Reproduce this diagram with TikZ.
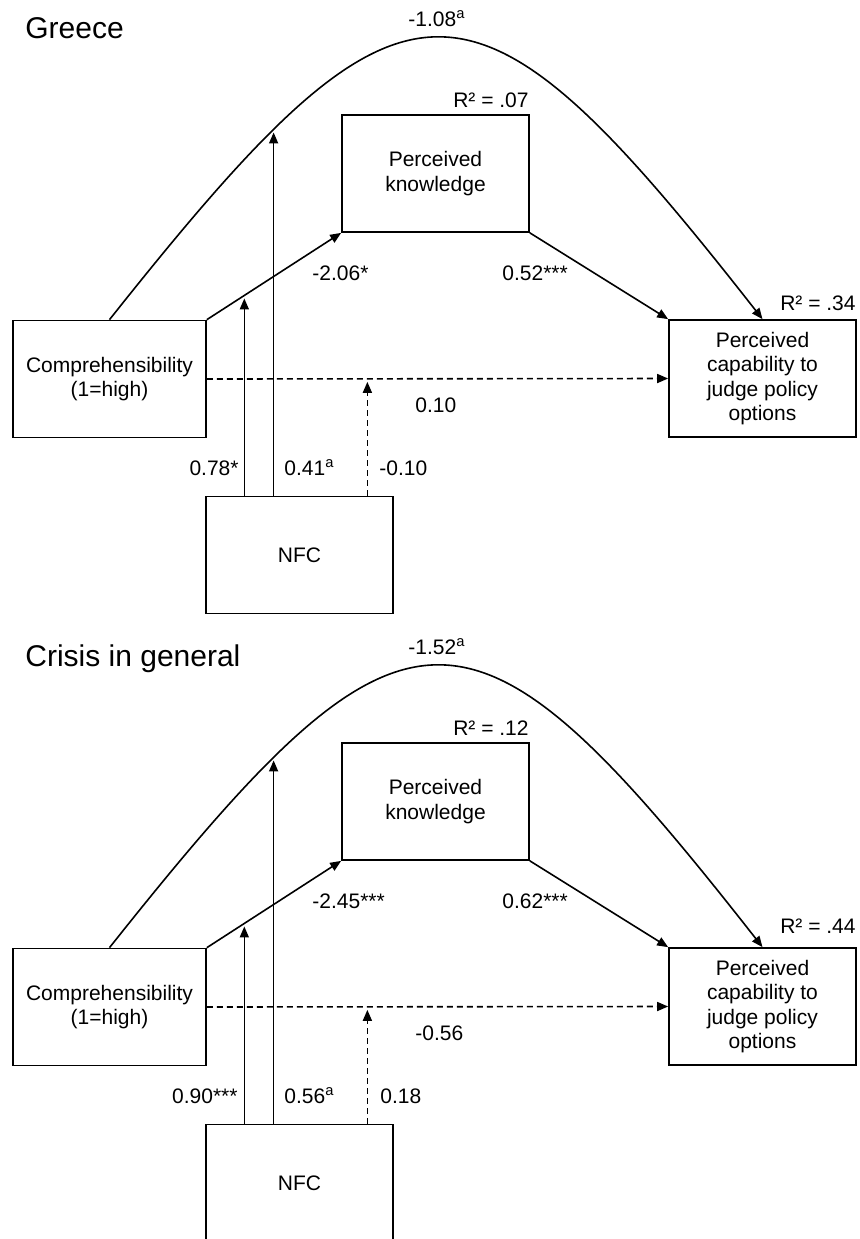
\documentclass[tikz,border=0pt]{standalone}
\usepackage{fontspec}
\setmainfont{Liberation Sans}
\usetikzlibrary{arrows.meta}

\begin{document}
\begin{tikzpicture}[
    x=0.5pt, y=-0.5pt,
    font=\fontsize{10.5}{12.25}\selectfont,
    varbox/.style={draw, line width=0.85pt, minimum width=93.5pt, minimum height=58.5pt, align=center, inner sep=2pt},
    widebox/.style={varbox, minimum width=96.5pt},
    coef/.style={inner sep=0pt},
    paneltitle/.style={inner sep=0pt, font=\fontsize{15}{18}\selectfont},
    effect/.style={-{Triangle[length=5.5pt, width=4.5pt]}, line width=0.8pt},
    nseffect/.style={effect, dash pattern=on 3pt off 2pt},
    modline/.style={effect, shorten >=1.5pt}
]

    \useasboundingbox (0,0) rectangle (859,1239);
    \clip (0,0) rectangle (859,1239);

    % Greece (panel 1)
    \node[paneltitle, anchor=base west] (title_gr) at (25,38) {Greece};

    \node[widebox] (comp_gr) at (109.5,379) {Comprehensibility\\(1=high)};
    \node[varbox] (pk_gr) at (435.5,173.5) {Perceived\\knowledge};
    \node[varbox] (cap_gr) at (762.5,378.5) {Perceived\\capability to\\judge policy\\options};
    \node[varbox] (nfc_gr) at (299.5,555) {NFC};

    \node[coef, anchor=base east] (r2pk_gr) at (529,107) {R² = .07};
    \node[coef, anchor=base east] (r2cap_gr) at (856,310) {R² = .34};

    % Pfade
    \draw[effect] (comp_gr.north) .. controls (407.7,-56) and (468.7,-56) .. (cap_gr.north) coordinate[pos=0.215] (modt_gr);
    \draw[effect] (comp_gr.north east) -- (pk_gr.south west) coordinate[pos=0.279] (moda_gr);
    \draw[effect] (pk_gr.south east) -- (cap_gr.north west);
    \draw[nseffect] (comp_gr.east) -- (cap_gr.west) coordinate[pos=0.348] (modc_gr);

    % Moderation durch NFC
    \draw[modline] (moda_gr |- nfc_gr.north) -- (moda_gr);
    \draw[modline] (modt_gr |- nfc_gr.north) -- (modt_gr);
    \draw[nseffect, shorten >=1.5pt] (modc_gr |- nfc_gr.north) -- (modc_gr);

    % Koeffizienten
    \node[coef, anchor=base] (ct_gr) at (437,26) {-1.08\textsuperscript{a}};
    \node[coef, anchor=base west] (ca_gr) at (312,280) {-2.06*};
    \node[coef, anchor=base west] (cb_gr) at (502,280) {0.52***};
    \node[coef, anchor=base west] (cc_gr) at (415,412) {0.10};
    \node[coef, anchor=base east] (ma_gr) at (239,475) {0.78*};
    \node[coef, anchor=base west] (mt_gr) at (284,475) {0.41\textsuperscript{a}};
    \node[coef, anchor=base west] (mc_gr) at (379,475) {-0.10};

    % Crisis in general (panel 2)
    \node[paneltitle, anchor=base west] (title_cr) at (25,666) {Crisis in general};

    \node[widebox] (comp_cr) at (109.5,1007) {Comprehensibility\\(1=high)};
    \node[varbox] (pk_cr) at (435.5,801.5) {Perceived\\knowledge};
    \node[varbox] (cap_cr) at (762.5,1006.5) {Perceived\\capability to\\judge policy\\options};
    \node[varbox] (nfc_cr) at (299.5,1183) {NFC};

    \node[coef, anchor=base east] (r2pk_cr) at (529,735) {R² = .12};
    \node[coef, anchor=base east] (r2cap_cr) at (856,933) {R² = .44};

    % Pfade
    \draw[effect] (comp_cr.north) .. controls (407.7,572) and (468.7,572) .. (cap_cr.north) coordinate[pos=0.215] (modt_cr);
    \draw[effect] (comp_cr.north east) -- (pk_cr.south west) coordinate[pos=0.279] (moda_cr);
    \draw[effect] (pk_cr.south east) -- (cap_cr.north west);
    \draw[nseffect] (comp_cr.east) -- (cap_cr.west) coordinate[pos=0.348] (modc_cr);

    % Moderation durch NFC
    \draw[modline] (moda_cr |- nfc_cr.north) -- (moda_cr);
    \draw[modline] (modt_cr |- nfc_cr.north) -- (modt_cr);
    \draw[nseffect, shorten >=1.5pt] (modc_cr |- nfc_cr.north) -- (modc_cr);

    % Koeffizienten
    \node[coef, anchor=base] (ct_cr) at (437,654) {-1.52\textsuperscript{a}};
    \node[coef, anchor=base west] (ca_cr) at (312,908) {-2.45***};
    \node[coef, anchor=base west] (cb_cr) at (502,908) {0.62***};
    \node[coef, anchor=base west] (cc_cr) at (415,1040) {-0.56};
    \node[coef, anchor=base east] (ma_cr) at (238,1103) {0.90***};
    \node[coef, anchor=base west] (mt_cr) at (284,1103) {0.56\textsuperscript{a}};
    \node[coef, anchor=base west] (mc_cr) at (380,1103) {0.18};

\end{tikzpicture}
\end{document}
